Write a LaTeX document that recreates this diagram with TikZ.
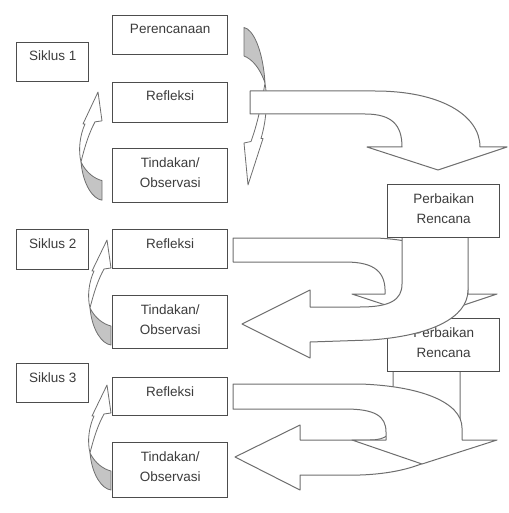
\documentclass[tikz,border=0pt]{standalone}
\usepackage{fontspec}
\setmainfont{Liberation Sans}
\definecolor{boxc}{HTML}{4D4D4D}
\definecolor{arrc}{HTML}{6E6E6E}
\definecolor{txtc}{HTML}{3C3C3C}
\definecolor{backc}{HTML}{C4C4C4}
\begin{document}
\begin{tikzpicture}[x=1pt,y=-1pt,
  box/.style={draw=boxc, line width=1.3pt, fill=white, inner sep=0, anchor=north west},
  lbl/.style={font=\fontsize{13.5}{20}\selectfont, text=txtc, inner sep=0, anchor=base},
  blk/.style={draw=arrc, line width=1pt, fill=white, line join=round},
  grayside/.style={draw=arrc, line width=0.8pt, fill=backc, line join=round},
  whiteside/.style={draw=arrc, line width=0.8pt, fill=white, line join=round},
  bendarrow/.pic={
    \path[grayside] (-17,68) .. controls (-15,90) and (-5,104) .. (4,105) -- (4,86)
       .. controls (-4,84) and (-12,78) .. (-17,68) -- cycle;
    \path[whiteside] (-17,68) .. controls (-20,56) and (-18,42) .. (-13,31) -- (-15,31)
       -- (0,0) -- (4,28) -- (-3,29) .. controls (-9,40) and (-13,52) .. (-17,68) -- cycle;
  }]
\useasboundingbox (0,0) rectangle (508,513);

% small curved arrows
\pic (ca0) [xscale=-1,yscale=-1.5] at (248,185) {bendarrow};
\pic (ca1) [yscale=1.03] at (98,92) {bendarrow};
\pic (ca2) at (107,240) {bendarrow};
\pic (ca3) at (107,385) {bendarrow};

% boxes, cycle 1
\node[box, minimum width=72pt, minimum height=39pt] (s1) at (16,42) {};
\node[lbl] (ts1) at ([yshift=-19pt]s1.north) {Siklus 1};
\node[box, minimum width=115pt, minimum height=39pt] (per) at (112,15) {};
\node[lbl] (tper) at ([yshift=-19pt]per.north) {Perencanaan};
\node[box, minimum width=115pt, minimum height=40pt] (r1) at (112,82) {};
\node[lbl] (tr1) at ([yshift=-19pt]r1.north) {Refleksi};
\node[box, minimum width=115pt, minimum height=54pt] (t1) at (112,148) {};
\node[lbl] (tt1a) at ([yshift=-19pt]t1.north) {Tindakan/};
\node[lbl] (tt1b) at ([yshift=-39pt]t1.north) {Observasi};

% cycle 2
\node[box, minimum width=72pt, minimum height=40pt] (s2) at (16,229) {};
\node[lbl] (ts2) at ([yshift=-19pt]s2.north) {Siklus 2};
\node[box, minimum width=115pt, minimum height=39pt] (r2) at (112,229) {};
\node[lbl] (tr2) at ([yshift=-19pt]r2.north) {Refleksi};
\node[box, minimum width=115pt, minimum height=53pt] (t2) at (112,295) {};
\node[lbl] (tt2a) at ([yshift=-19pt]t2.north) {Tindakan/};
\node[lbl] (tt2b) at ([yshift=-39pt]t2.north) {Observasi};

% cycle 3
\node[box, minimum width=72pt, minimum height=39pt] (s3) at (16,363) {};
\node[lbl] (ts3) at ([yshift=-19pt]s3.north) {Siklus 3};
\node[box, minimum width=115pt, minimum height=38pt] (r3) at (112,377) {};
\node[lbl] (tr3) at ([yshift=-19pt]r3.north) {Refleksi};
\node[box, minimum width=115pt, minimum height=55pt] (t3) at (112,442) {};
\node[lbl] (tt3a) at ([yshift=-19pt]t3.north) {Tindakan/};
\node[lbl] (tt3b) at ([yshift=-39pt]t3.north) {Observasi};

% big arrow 1: Refleksi 1 -> Perbaikan Rencana
\path[blk] (250,91) -- (375,91) .. controls (440,91) and (480,115) .. (480,147)
  -- (507,147) -- (438,170) -- (367,147) -- (402,147)
  .. controls (402,125) and (392,114) .. (365,114) -- (250,114) -- cycle;

% big arrow A: Refleksi 2 -> down
\path[blk] (233,238) -- (375,238) .. controls (435,240) and (468,262) .. (468,294)
  -- (497,294) -- (425,318) -- (352,294) -- (385,294)
  .. controls (386,272) and (375,262) .. (345,262) -- (233,262) -- cycle;

% big arrow D: Perbaikan 2 -> Tindakan 3
\path[blk] (393,371) -- (393,420) .. controls (393,434) and (386,440) .. (370,440)
  -- (300,440) -- (300,425) -- (235,457) -- (300,490) -- (300,475) -- (360,475)
  .. controls (420,473) and (460,452) .. (460,420) -- (460,371) -- cycle;

% Perbaikan Rencana 2
\node[box, minimum width=112pt, minimum height=53pt] (pb2) at (387,318) {};
\node[lbl] (tpb2a) at ([yshift=-19pt]pb2.north) {Perbaikan};
\node[lbl] (tpb2b) at ([yshift=-39pt]pb2.north) {Rencana};

% big arrow B: Perbaikan 1 -> Tindakan 2
\path[blk] (402,237) -- (402,284) .. controls (402,300) and (390,307) .. (360,307)
  -- (310,307) -- (310,290) -- (242,324) -- (310,358) -- (310,342) -- (370,340)
  .. controls (430,336) and (468,318) .. (468,290) -- (468,237) -- cycle;

% Perbaikan Rencana 1
\node[box, minimum width=112pt, minimum height=53pt] (pb1) at (387,184) {};
\node[lbl] (tpb1a) at ([yshift=-19pt]pb1.north) {Perbaikan};
\node[lbl] (tpb1b) at ([yshift=-39pt]pb1.north) {Rencana};

% big arrow C: Refleksi 3 -> down
\path[blk] (233,384) -- (360,384) .. controls (420,386) and (462,402) .. (462,428)
  -- (462,440) -- (497,440) -- (422,464) -- (352,440) -- (386,440) -- (386,432)
  .. controls (386,416) and (375,409) .. (345,409) -- (233,409) -- cycle;
\end{tikzpicture}
\end{document}
